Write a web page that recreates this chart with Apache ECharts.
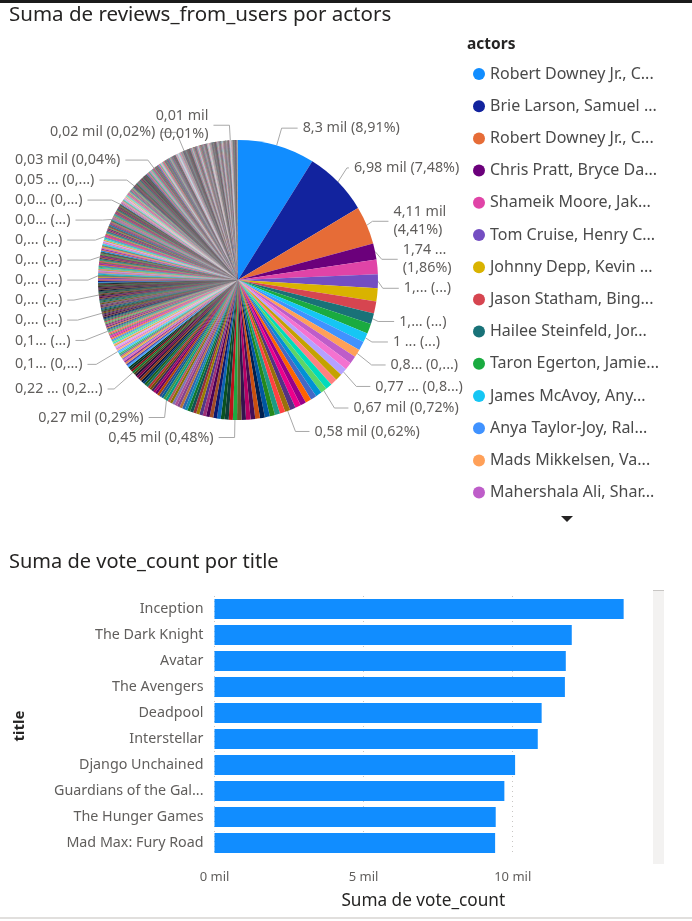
<!DOCTYPE html>
<html>
<head>
<meta charset="utf-8">
<script src="https://cdn.jsdelivr.net/npm/echarts@6/dist/echarts.min.js"></script>
<style>
  html, body { margin: 0; padding: 0; background: #fff; }
  #main { width: 692px; height: 921px; }
</style>
</head>
<body>
<div id="main"></div>
<script>
// ---- pie: Suma de reviews_from_users por actors ----
// the 14 actors listed in the legend (largest first) and the text the legend shows for them
var actorNames = [
  'Robert Downey Jr., Chris Evans, Mark Ruffalo',
  'Brie Larson, Samuel L. Jackson, Ben Mendelsohn',
  'Robert Downey Jr., Chris Hemsworth, Mark Ruffalo',
  'Chris Pratt, Bryce Dallas Howard, Irrfan Khan',
  'Shameik Moore, Jake Johnson, Hailee Steinfeld',
  'Tom Cruise, Henry Cavill, Ving Rhames',
  'Johnny Depp, Kevin McNally, Jack Davenport',
  'Jason Statham, Bingbing Li, Rainn Wilson',
  'Hailee Steinfeld, Jorge Lendeborg Jr., John Cena',
  'Taron Egerton, Jamie Bell, Richard Madden',
  'James McAvoy, Anya Taylor-Joy, Haley Lu Richardson',
  'Anya Taylor-Joy, Ralph Ineson, Kate Dickie',
  'Mads Mikkelsen, Vanessa Kirby, Nikolaj Lie Kaas',
  'Mahershala Ali, Sharon Duncan-Brewster, Hugh Dancy'
];
var legendText = [
  'Robert Downey Jr., C...', 'Brie Larson, Samuel ...', 'Robert Downey Jr., C...', 'Chris Pratt, Bryce Da...',
  'Shameik Moore, Jak...', 'Tom Cruise, Henry C...', 'Johnny Depp, Kevin ...', 'Jason Statham, Bing...',
  'Hailee Steinfeld, Jor...', 'Taron Egerton, Jamie...', 'James McAvoy, Any...', 'Anya Taylor-Joy, Ral...',
  'Mads Mikkelsen, Va...', 'Mahershala Ali, Shar...'
];
var actorReviews = [8300, 6980, 4110, 1740, 1560, 1490, 1420, 1280, 1150, 1090, 1000, 940, 860, 830];

// the next actors, one value each
var moreReviews = [
  800, 770, 740, 720, 700, 670, 660, 650, 640, 620, 610, 600, 580, 570, 560, 550, 540, 520, 510, 500,
  490, 480, 470, 450, 440, 430, 420, 410, 400, 390, 380, 370, 360, 350, 340, 330, 320, 310, 300, 300,
  290, 290, 285, 280, 280, 270, 265, 262, 260, 258, 255, 252, 250, 248, 245, 242, 240, 238, 235, 232,
  230, 228, 226, 225, 220, 215, 210, 205, 200, 195, 190, 185, 180, 175, 170, 165, 160, 155, 152, 150,
  148, 146, 144, 142, 140, 138, 136, 134, 132, 130, 128, 127, 126, 125, 124, 123, 122, 120
];

// long tail: [reviews, number of actors, label text]
var tailReviews = [
  [118, 2], [116, 2], [114, 2], [112, 2], [110, 3], [108, 3], [106, 3], [104, 1, '0,... (...)'],
  [102, 3], [100, 4], [98, 4], [96, 4], [95, 4], [94, 1, '0,... (...)'],
  [92, 4], [90, 5], [88, 5], [87, 4], [86, 4], [85, 1, '0,... (...)'],
  [84, 4], [82, 5], [81, 5], [80, 5], [79, 5], [77, 1, '0,... (...)'],
  [76, 6], [75, 6], [74, 6], [72, 6], [71, 5], [70, 1, '0,... (...)'],
  [69, 6], [68, 6], [67, 6], [66, 6], [65, 4], [64, 1, '0,0... (...)'],
  [63, 7], [62, 7], [61, 7], [60, 8], [59, 1, '0,0... (0,...)'],
  [58, 8], [57, 8], [56, 8], [55, 8], [54, 7], [53, 4], [52, 1, '0,05 ... (0,...)'],
  [50, 8], [48, 8], [46, 8], [44, 9], [42, 9], [40, 9], [38, 10], [36, 3], [34, 1, '0,03 mil (0,04%)'],
  [33, 12], [31, 14], [29, 16], [27, 18], [25, 20], [23, 22], [22, 40], [20, 1, '0,02 mil (0,02%)'],
  [19, 30], [17, 40], [15, 50], [13, 80], [12, 80], [11, 94], [10, 1, '0,01 mil\n(0,01%)'],
  [10, 12], [9, 60], [8, 19]
];

// other data labels shown by the visual: [slice index, text]
var pieLabels = [
  [0, '8,3 mil (8,91%)'], [1, '6,98 mil (7,48%)'], [2, '4,11 mil\n(4,41%)'], [3, '1,74 ...\n(1,86%)'],
  [5, '1,... (...)'], [8, '1,... (...)'], [10, '1 ... (...)'], [12, '0,8... (0,...)'],
  [15, '0,77 ... (0,8...)'], [19, '0,67 mil (0,72%)'], [26, '0,58 mil (0,62%)'], [37, '0,45 mil (0,48%)'],
  [59, '0,27 mil (0,29%)'], [78, '0,22 ... (0,2...)'], [93, '0,1... (0,...)'], [111, '0,1... (...)']
];

// ---- bar: Suma de vote_count por title ----
var titles = ['Inception', 'The Dark Knight', 'Avatar', 'The Avengers', 'Deadpool', 'Interstellar',
  'Django Unchained', 'Guardians of the Galaxy', 'The Hunger Games', 'Mad Max: Fury Road'];
var voteCounts = [13720, 11980, 11780, 11750, 10970, 10840, 10080, 9720, 9430, 9410];

// power bi default palette, then darker / lighter variants for the many small slices
var pbiColors = ['#118DFF', '#12239E', '#E66C37', '#6B007B', '#E044A7', '#744EC2', '#D9B300', '#D64550',
  '#197278', '#1AAB40', '#15C6F4', '#4092FF', '#FFA058', '#BE5DC9', '#F472D0', '#B5A1FF', '#C4A200',
  '#FF8080', '#00DBBC', '#5BD667', '#0091D5', '#4668C5', '#FF6300', '#99008A', '#EC008C', '#533285',
  '#99700A', '#FF4141', '#1F9A85', '#25891C', '#0057A2', '#002050', '#C94F0F', '#450F54', '#B60064',
  '#34124F', '#6A5A29', '#1AAB40', '#BA141A', '#0C3D37', '#0B511F'];
function shade(hex, t) {
  var n = parseInt(hex.slice(1), 16), c = [n >> 16, (n >> 8) & 255, n & 255];
  c = c.map(function (x) { return Math.round(t > 0 ? x + (255 - x) * t : x * (1 + t)); });
  return 'rgb(' + c.join(',') + ')';
}
var pieColors = pbiColors;
[-0.3, 0.2, -0.55, -0.15].forEach(function (t) {
  pieColors = pieColors.concat(pbiColors.map(function (c) { return shade(c, t); }));
});

// labels low on the left of the pie sit against the left edge, like power bi does
var edgeLabels = { '0,22 ... (0,2...)': 1, '0,1... (0,...)': 1, '0,1... (...)': 1, '0,... (...)': 1,
  '0,0... (...)': 1, '0,0... (0,...)': 1, '0,05 ... (0,...)': 1, '0,03 mil (0,04%)': 1 };

var values = [], labelText = [];
actorReviews.forEach(function (v) { values.push(v); labelText.push(null); });
moreReviews.forEach(function (v) { values.push(v); labelText.push(null); });
tailReviews.forEach(function (g) {
  for (var k = 0; k < g[1]; k++) { values.push(g[0]); labelText.push(g[2] || null); }
});
pieLabels.forEach(function (p) { labelText[p[0]] = p[1]; });

// leader line lengths, by where the slice sits
function leader(i, mid, t) {
  if (i === 0) return [18, 16];
  if (i === 1) return [20, 2];
  if (t.indexOf('0,01') === 0) return [15, 16];
  if (t.indexOf('0,02') === 0) return [20, 16];
  if (t.indexOf('0,45') === 0) return [15, 16];
  if (t.indexOf('0,27') === 0) return [20, 16];
  if (mid > 0.32 && mid < 0.5) return [22, 14];
  if (mid > 0.5 && mid < 0.75) return [25, 16];
  return [10, 16];
}

// two pies on the same spot: the first draws the slices and the labels on the right,
// the second (invisible) carries the labels on the left so they are laid out separately
var total = values.reduce(function (a, b) { return a + b; }, 0);
var cum = 0;
var pieData = [], leftData = [];
values.forEach(function (v, i) {
  var mid = (cum + v / 2) / total;
  cum += v;
  var d = { value: v }, e = { value: v };
  if (i < actorNames.length) d.name = actorNames[i];
  var t = labelText[i];
  if (t) {
    var len = leader(i, mid, t);
    var target = (mid > 0.5 && t.indexOf('0,01') !== 0) ? e : d;
    target.label = { show: true, formatter: t, alignTo: edgeLabels[t] ? 'edge' : 'none', edgeDistance: 15 };
    target.labelLine = { show: true, length: len[0], length2: len[1] };
  }
  pieData.push(d);
  leftData.push(e);
});

var font = 'Noto Sans';
var pieLabel = { show: false, position: 'outside', fontFamily: font, fontSize: 14.3, color: '#605E5C',
  lineHeight: 18, overflow: 'none' };
var pieLine = { show: false, length: 10, length2: 16, lineStyle: { color: '#A8A8A8', width: 1 } };

var chart = echarts.init(document.getElementById('main'));
chart.setOption({
  animation: false,
  color: pieColors,
  title: [
    { text: 'Suma de reviews_from_users por actors', left: 9, top: 5, padding: 0,
      textStyle: { fontFamily: font, fontSize: 20.5, fontWeight: 'normal', color: '#252423' } },
    { text: 'Suma de vote_count por title', left: 9, top: 552, padding: 0,
      textStyle: { fontFamily: font, fontSize: 20, fontWeight: 'normal', color: '#252423' } }
  ],
  legend: {
    data: actorNames,
    orient: 'vertical',
    left: 468, top: 60,
    icon: 'circle', itemWidth: 12, itemHeight: 12, itemGap: 14.2,
    selectedMode: false,
    formatter: function (name) { return legendText[actorNames.indexOf(name)]; },
    textStyle: { fontFamily: font, fontSize: 16, color: '#4a4a4a', lineHeight: 18 }
  },
  grid: { left: 214.5, right: 60, top: 596, bottom: 65 },
  xAxis: {
    type: 'value', min: 0, max: 14000, interval: 5000,
    name: 'Suma de vote_count', nameLocation: 'middle', nameGap: 37,
    nameTextStyle: { fontFamily: font, fontSize: 17.2, color: '#252423' },
    axisLine: { show: false }, axisTick: { show: false },
    axisLabel: { fontFamily: font, fontSize: 13, color: '#605E5C', margin: 15, showMaxLabel: false,
      formatter: function (v) { return (v / 1000) + ' mil'; } },
    splitLine: { show: true, showMaxLine: false, lineStyle: { color: '#C8C6C4', type: [1, 4], width: 1 } }
  },
  yAxis: {
    type: 'category', data: titles, inverse: true,
    axisLine: { show: false }, axisTick: { show: false },
    axisLabel: { fontFamily: font, fontSize: 14.3, color: '#605E5C', margin: 11,
      width: 152, overflow: 'truncate', ellipsis: '...' }
  },
  series: [
    {
      type: 'pie',
      center: [238, 280], radius: 140,
      data: pieData,
      itemStyle: { borderWidth: 0 },
      emphasis: { disabled: true },
      label: pieLabel,
      labelLine: pieLine
    },
    {
      type: 'pie',
      center: [238, 280], radius: 140,
      data: leftData,
      silent: true,
      itemStyle: { borderWidth: 0, color: 'rgba(0,0,0,0)' },
      emphasis: { disabled: true },
      label: pieLabel,
      labelLine: pieLine
    },
    {
      type: 'bar',
      data: voteCounts,
      barCategoryGap: '23%',
      itemStyle: { color: '#118DFF' },
      emphasis: { disabled: true }
    }
  ],
  graphic: [
    { type: 'rect', shape: { x: 0, y: 0, width: 692, height: 3 }, style: { fill: '#1b1b1b' } },
    { type: 'rect', shape: { x: 0, y: 917, width: 692, height: 2 }, style: { fill: '#E1DFDD' } },
    { type: 'text', x: 467, y: 45,
      style: { text: 'actors', fontFamily: font, fontSize: 15.5, fontWeight: 'bold', fill: '#252423',
        verticalAlign: 'middle' } },
    { type: 'polygon', shape: { points: [[561, 516], [573, 516], [567, 522]] }, style: { fill: '#252423' } },
    { type: 'rect', shape: { x: 653, y: 590, width: 11, height: 274 }, style: { fill: '#F3F2F1' } },
    { type: 'rect', shape: { x: 653, y: 590, width: 11, height: 1 }, style: { fill: '#C8C6C4' } },
    { type: 'text', x: 20, y: 726, rotation: Math.PI / 2,
      style: { text: 'title', fontFamily: font, fontSize: 15, fontWeight: 'bold', fill: '#252423',
        align: 'center', verticalAlign: 'middle' } }
  ]
});
</script>
</body>
</html>
